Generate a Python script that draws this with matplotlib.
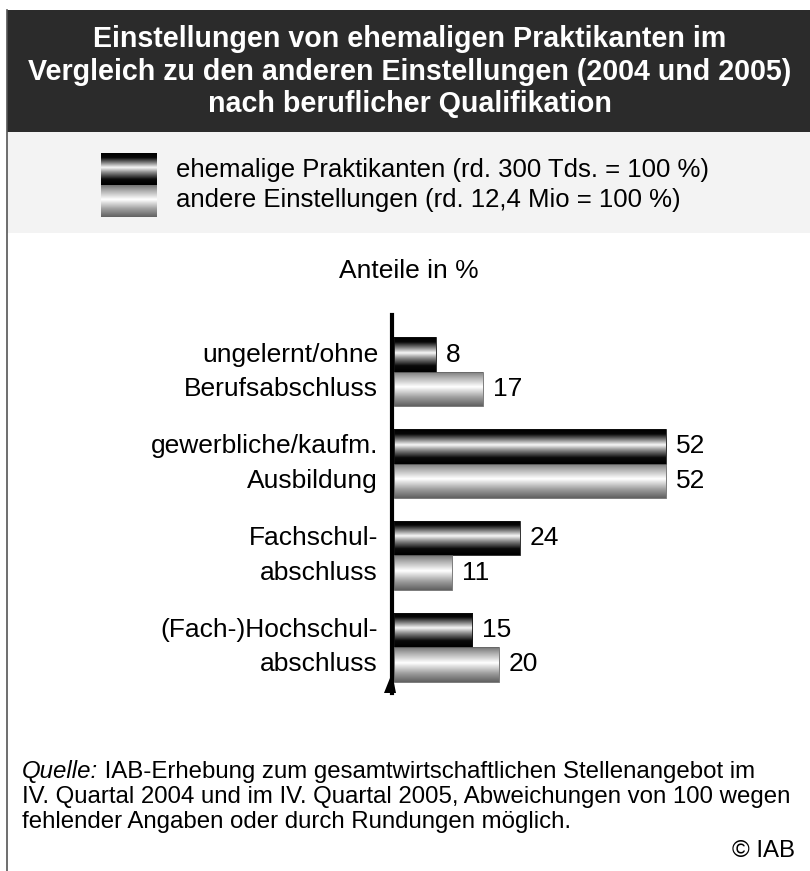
import numpy as np
import matplotlib
matplotlib.use("Agg")
import matplotlib.pyplot as plt
from matplotlib.patches import Rectangle, Polygon

plt.rcParams['font.family'] = ['Liberation Sans', 'DejaVu Sans']

# ---------------- data ----------------
title_lines = ["Einstellungen von ehemaligen Praktikanten im",
               "Vergleich zu den anderen Einstellungen (2004 und 2005)",
               "nach beruflicher Qualifikation"]
legend_labels = ["ehemalige Praktikanten (rd. 300 Tds. = 100 %)",
                 "andere Einstellungen (rd. 12,4 Mio = 100 %)"]
axis_title = "Anteile in %"
categories = ["ungelernt/ohne\nBerufsabschluss",
              "gewerbliche/kaufm.\nAusbildung",
              "Fachschul-\nabschluss",
              "(Fach-)Hochschul-\nabschluss"]
praktikanten = [8, 52, 24, 15]
andere = [17, 52, 11, 20]
source_italic = "Quelle:"
source_lines = [" IAB-Erhebung zum gesamtwirtschaftlichen Stellenangebot im",
                "IV. Quartal 2004 und im IV. Quartal 2005, Abweichungen von 100 wegen",
                "fehlender Angaben oder durch Rundungen möglich."]
copyright_text = "© IAB"

# ---------------- style ----------------
W, H = 810, 871
FS = 19
fig = plt.figure(figsize=(W / 100, H / 100), dpi=100)
fig.patch.set_facecolor('white')

bg = fig.add_axes([0, 0, 1, 1])
bg.set_xlim(0, W)
bg.set_ylim(H, 0)
bg.axis('off')

# title band
bg.add_patch(Rectangle((7, 10), W - 7, 122, facecolor='#2b2b2b', edgecolor='none', zorder=1))
# legend band
bg.add_patch(Rectangle((7, 132), W - 7, 101, facecolor='#f3f3f3', edgecolor='none', zorder=1))
# left frame line
bg.plot([7, 7], [10, H], color='#555555', lw=1.2, zorder=2)

for i, line in enumerate(title_lines):
    bg.text(410, 47 + i * 32.5, line, ha='center', va='baseline', color='white',
            fontsize=20.6, fontweight='bold', zorder=4)

# gradient profiles
def profile(tp, vp, n=120):
    t = np.linspace(0, 1, n)
    return np.interp(t, tp, vp).reshape(-1, 1)

dark_grad = profile([0, 0.14, 0.30, 0.45, 0.60, 0.82, 1.0],
                    [0.0, 0.03, 0.50, 0.97, 0.55, 0.04, 0.0])
light_grad = profile([0, 0.15, 0.45, 0.75, 1.0],
                     [0.45, 0.65, 1.0, 0.62, 0.38])

# legend swatch
bg.imshow(dark_grad, extent=(101, 157, 185.5, 154), cmap='gray', vmin=0, vmax=1,
          aspect='auto', interpolation='bilinear', zorder=3)
bg.imshow(light_grad, extent=(101, 157, 217, 185.5), cmap='gray', vmin=0, vmax=1,
          aspect='auto', interpolation='bilinear', zorder=3)
bg.set_xlim(0, W)
bg.set_ylim(H, 0)
for i, lab in enumerate(legend_labels):
    bg.text(176, 177 + i * 30, lab, ha='left', va='baseline', fontsize=18.5, color='black',
            zorder=4)

bg.text(409, 278, axis_title, ha='center', va='baseline', fontsize=FS)

# ---------------- chart axes ----------------
ax_left, ax_right, ax_top, ax_bot = 394, 810, 315, 693
ax = fig.add_axes([ax_left / W, (H - ax_bot) / H, (ax_right - ax_left) / W, (ax_bot - ax_top) / H])
ax.set_facecolor('none')
px_per_unit = (667 - 395) / 52
xmax = (ax_right - ax_left) / px_per_unit
ypos = np.arange(len(categories))
bh = 0.375
ylim = (3.50, -0.62)

bars_p = ax.barh(ypos - bh / 2, praktikanten, height=bh, color='none',
                 edgecolor='#111111', linewidth=0.6, zorder=3)
bars_a = ax.barh(ypos + bh / 2, andere, height=bh, color='none',
                 edgecolor='#666666', linewidth=0.6, zorder=3)
for bars, grad in ((bars_p, dark_grad), (bars_a, light_grad)):
    for b in bars:
        x0, y0, w, h = b.get_x(), b.get_y(), b.get_width(), b.get_height()
        im = ax.imshow(grad, extent=(x0, x0 + w, y0 + h, y0), cmap='gray', vmin=0, vmax=1,
                       aspect='auto', interpolation='bilinear', zorder=2)
        im.set_clip_path(b)
        ax.annotate(f"{w:g}", xy=(x0 + w, y0 + h / 2), xytext=(10, 0),
                    textcoords='offset pixels', ha='left', va='center', fontsize=FS)

ax.set_xlim(0, xmax)
ax.set_ylim(*ylim)

# category labels (each line beside its bar)
for yi, cat in zip(ypos, categories):
    lines = cat.split("\n")
    for k, ln in enumerate(lines):
        ax.annotate(ln, xy=(0, yi + (k - 0.5) * bh), xycoords=('axes fraction', 'data'),
                    xytext=(-16, 0), textcoords='offset pixels', ha='right', va='center',
                    fontsize=FS)

for s in ('top', 'right', 'bottom'):
    ax.spines[s].set_visible(False)
ax.spines['left'].set_linewidth(3.0)
ax.spines['left'].set_position(('outward', 1.5))
ax.set_xticks([])
ax.set_yticks([])

# axis foot and top wedge (decoration in pixel space)
bg.add_patch(Polygon([[384, 693], [396, 693], [393, 678], [390, 678]], closed=True,
                     facecolor='black', edgecolor='none', zorder=5))
bg.add_patch(Polygon([[390, 326], [394, 315], [394, 330], [390, 330]], closed=True,
                     facecolor='black', edgecolor='none', zorder=5))

# ---------------- source ----------------
SF = 17.3
t1 = bg.text(22, 778, source_italic, ha='left', va='baseline', fontsize=SF, style='italic')
bg.annotate(source_lines[0], xy=(1, 0), xycoords=t1, ha='left', va='bottom', fontsize=SF)
for i, ln in enumerate(source_lines[1:], start=1):
    bg.text(22, 778 + i * 25, ln, ha='left', va='baseline', fontsize=SF)
bg.text(795, 857, copyright_text, ha='right', va='baseline', fontsize=SF)

fig.savefig("out.png", dpi=100)
